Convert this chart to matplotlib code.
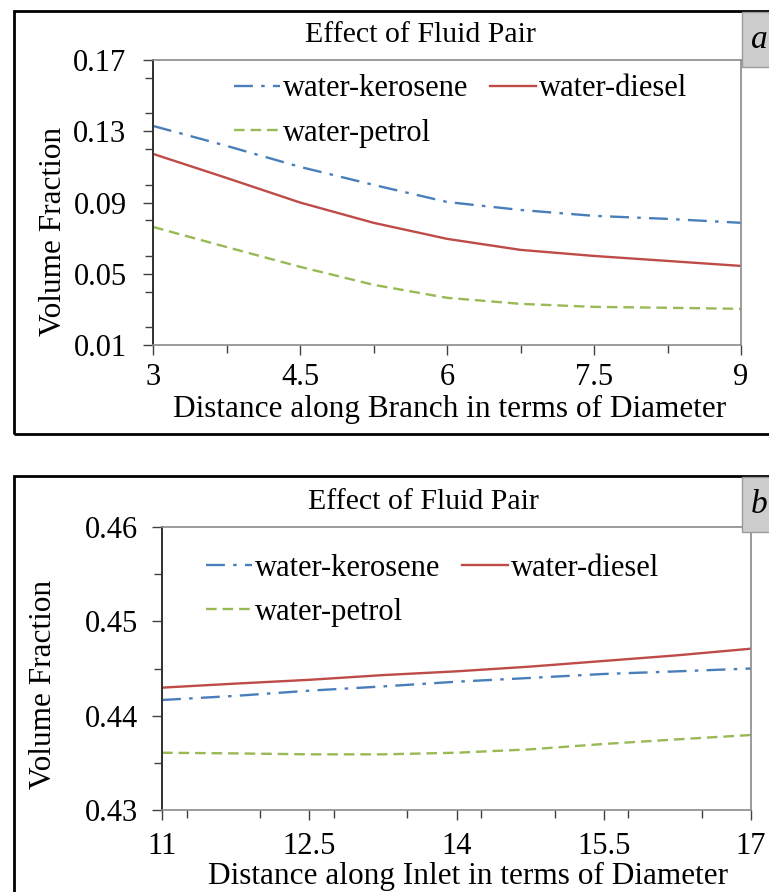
import matplotlib
matplotlib.use("Agg")
import matplotlib.pyplot as plt
import matplotlib.patches as patches
from matplotlib.ticker import MultipleLocator, FixedLocator

# ── Data ────────────────────────────────────────────────────────────────────
branch_x = [3, 3.75, 4.5, 5.25, 6, 6.75, 7.5, 8.25, 9]
branch_kerosene = [0.133, 0.1218, 0.110, 0.0999, 0.0903, 0.0858, 0.0825, 0.0808, 0.0786]
branch_diesel = [0.1173, 0.1038, 0.0900, 0.0786, 0.0696, 0.0634, 0.0600, 0.0572, 0.0544]
branch_petrol = [0.0763, 0.0650, 0.0539, 0.0438, 0.0365, 0.0331, 0.0314, 0.0309, 0.0303]

inlet_x = [11, 11.75, 12.5, 13.25, 14, 14.75, 15.5, 16.25, 17]
inlet_kerosene = [0.44166, 0.4421, 0.44265, 0.4431, 0.4436, 0.4440, 0.44442, 0.4447, 0.4450]
inlet_diesel = [0.44297, 0.4434, 0.4438, 0.4443, 0.4447, 0.4452, 0.4458, 0.4464, 0.4471]
inlet_petrol = [0.43607, 0.4360, 0.43590, 0.4359, 0.43607, 0.43643, 0.43700, 0.43749, 0.43795]

branch_xticks = [3, 4.5, 6, 7.5, 9]
branch_yticks = [0.01, 0.05, 0.09, 0.13, 0.17]
inlet_xticks = [11, 12.5, 14, 15.5, 17]
inlet_yticks = [0.43, 0.44, 0.45, 0.46]

# ── Style ───────────────────────────────────────────────────────────────────
BLUE = "#4A7EBB"
RED = "#BE4B48"
GREEN = "#98B954"
LW = 1.7
plt.rcParams["font.family"] = "Liberation Serif"

W, H = 769, 892
fig = plt.figure(figsize=(W / 100, H / 100), dpi=100)


def px_axes(left, top, right, bottom):
    return fig.add_axes([left / W, 1 - bottom / H, (right - left) / W, (bottom - top) / H])


def draw_panel(ax, x, ker, die, pet, xticks, yticks, ystep, xlabel,
               xl_coords, yl_coords, leg_anchor, ypad, xpad):
    ax.plot(x, ker, color=BLUE, lw=LW, dashes=(8, 3.5, 1.5, 3.5), label="water-kerosene")
    ax.plot(x, pet, color=GREEN, lw=LW, dashes=(4.5, 2.5), label="water-petrol")
    ax.plot(x, die, color=RED, lw=LW, label="water-diesel")

    ax.set_xlim(x[0], x[-1])
    ax.set_ylim(yticks[0], yticks[-1])
    ax.xaxis.set_major_locator(FixedLocator(xticks))
    ax.xaxis.set_minor_locator(MultipleLocator(0.75))
    ax.yaxis.set_major_locator(FixedLocator(yticks))
    ax.yaxis.set_minor_locator(MultipleLocator(ystep))
    ax.set_xticklabels([f"{t:g}" for t in xticks])
    ax.set_yticklabels([f"{t:.2f}" for t in yticks])

    ax.tick_params(which="major", direction="out", length=7, width=1.0,
                   color="#404040", labelsize=22)
    ax.tick_params(which="minor", direction="out", length=6, width=1.0, color="#404040")
    ax.tick_params(axis="y", which="major", pad=ypad)
    ax.tick_params(axis="x", which="major", pad=xpad)

    ax.spines["left"].set_color("#303030")
    ax.spines["left"].set_linewidth(1.4)
    for s in ("top", "right", "bottom"):
        ax.spines[s].set_color("#8a8a8a")
        ax.spines[s].set_linewidth(1.2)

    ax.set_xlabel(xlabel, fontsize=22.5)
    ax.xaxis.set_label_coords(*xl_coords)
    ax.set_ylabel("Volume Fraction", fontsize=22.5)
    ax.yaxis.set_label_coords(*yl_coords)

    ax.legend(loc="upper left", bbox_to_anchor=leg_anchor, ncol=2, frameon=False,
              fontsize=22, handlelength=1.5, handletextpad=0.1,
              columnspacing=0.7, labelspacing=0.5, borderpad=0, borderaxespad=0)


def draw_frame(top, bottom, box_top, box_bottom, letter):
    # black outer border of the panel
    fig.add_artist(patches.Rectangle((14 / W, 1 - bottom / H), (W + 20) / W,
                                     (bottom - top) / H, transform=fig.transFigure,
                                     fill=False, edgecolor="black", lw=2.0))
    # grey label box at top right
    fig.add_artist(patches.Rectangle((742 / W, 1 - box_bottom / H), 40 / W,
                                     (box_bottom - box_top) / H,
                                     transform=fig.transFigure, facecolor="#cdcdcd",
                                     edgecolor="#9a9a9a", lw=1.0))
    fig.text(751 / W, 1 - (box_top + box_bottom) / 2 / H, letter, fontsize=24,
             style="italic", ha="left", va="center")


# ── Panel (a): branch ───────────────────────────────────────────────────────
draw_frame(11, 434, 12, 67, "a")
ax1 = px_axes(153, 60, 741, 345)
draw_panel(ax1, branch_x, branch_kerosene, branch_diesel, branch_petrol,
           branch_xticks, branch_yticks, 0.02,
           "Distance along Branch in terms of Diameter",
           (0.505, -0.176), (-0.145, 0.40), (0.138, 0.95), 12, 6)
fig.text(420 / W, 1 - 35 / H, "Effect of Fluid Pair", fontsize=21.5,
         ha="center", va="center")

# ── Panel (b): inlet ────────────────────────────────────────────────────────
draw_frame(476, 900, 477, 532, "b")
ax2 = px_axes(162, 527, 751, 810)
draw_panel(ax2, inlet_x, inlet_kerosene, inlet_diesel, inlet_petrol,
           inlet_xticks, inlet_yticks, 0.005,
           "Distance along Inlet in terms of Diameter",
           (0.52, -0.185), (-0.177, 0.442), (0.075, 0.905), 10, 9)
fig.text(423 / W, 1 - 502 / H, "Effect of Fluid Pair", fontsize=21.5,
         ha="center", va="center")

fig.savefig("out.png", dpi=100, facecolor="white")
